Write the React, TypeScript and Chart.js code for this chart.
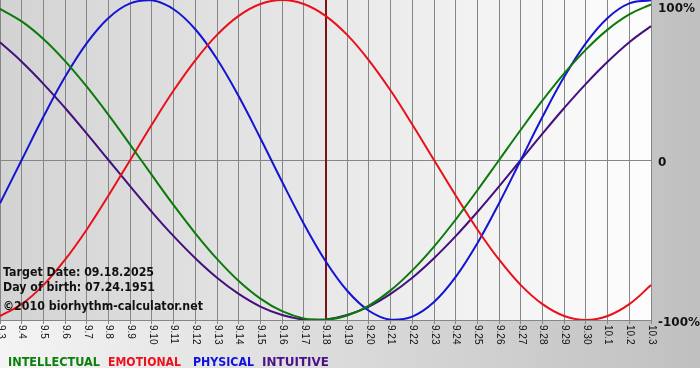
import React, { useEffect, useRef } from "react";
import { Chart, registerables } from "chart.js";

Chart.register(...registerables);

const dateLabels = [
  "9.3", "9.4", "9.5", "9.6", "9.7", "9.8", "9.9", "9.10", "9.11", "9.12",
  "9.13", "9.14", "9.15", "9.16", "9.17", "9.18", "9.19", "9.20", "9.21", "9.22",
  "9.23", "9.24", "9.25", "9.26", "9.27", "9.28", "9.29", "9.30", "10.1", "10.2", "10.3",
];

const intellectual = [
  0.945, 0.866, 0.756, 0.618, 0.458, 0.282, 0.095, -0.095, -0.282, -0.458,
  -0.618, -0.756, -0.866, -0.945, -0.99, -0.999, -0.972, -0.91, -0.815, -0.69,
  -0.541, -0.372, -0.189, 0, 0.189, 0.372, 0.541, 0.69, 0.815, 0.91, 0.972,
];

const emotional = [
  -0.975, -0.901, -0.782, -0.623, -0.434, -0.222, 0, 0.222, 0.434, 0.623,
  0.782, 0.901, 0.975, 1, 0.975, 0.901, 0.782, 0.623, 0.434, 0.222,
  0, -0.222, -0.434, -0.623, -0.782, -0.901, -0.975, -1, -0.975, -0.901, -0.782,
];

const physical = [
  -0.27, 0, 0.27, 0.52, 0.731, 0.888, 0.979, 0.998, 0.942, 0.817,
  0.631, 0.398, 0.136, -0.136, -0.398, -0.631, -0.817, -0.942, -0.998, -0.979,
  -0.888, -0.731, -0.52, -0.27, 0, 0.27, 0.52, 0.731, 0.888, 0.979, 0.998,
];

const intuitive = [
  0.736, 0.614, 0.476, 0.325, 0.165, 0, -0.165, -0.325, -0.476, -0.614,
  -0.736, -0.837, -0.916, -0.969, -0.997, -0.997, -0.969, -0.916, -0.837, -0.736,
  -0.614, -0.476, -0.325, -0.165, 0, 0.165, 0.325, 0.476, 0.614, 0.736, 0.837,
];

const targetDay = "9.18";
const yTickValues = [1, 0, -1];
const yTickTexts = ["100%", "0", "-100%"];
const infoLines = ["Target Date: 09.18.2025", "Day of birth: 07.24.1951", "\u00a92010 biorhythm-calculator.net"];
const legendNames = ["INTELLECTUAL", "EMOTIONAL", "PHYSICAL", "INTUITIVE"];

const lineColors = ["#0b7a0b", "#e8101a", "#1414d2", "#44107e"];
const legendColors = ["#0a7f0a", "#f0101c", "#1010e0", "#4a1288"];

function fitText(ctx: CanvasRenderingContext2D, text: string, x: number, y: number, w: number | null) {
  const m = ctx.measureText(text).width;
  ctx.save();
  ctx.translate(x, y);
  if (w) ctx.scale(w / m, 1);
  ctx.fillText(text, 0, 0);
  ctx.restore();
}

const decorPlugin = {
  id: "decor",
  beforeDraw(chart: any) {
    const { ctx, width, height, chartArea: a } = chart;
    ctx.save();
    ctx.fillStyle = "#ffffff";
    ctx.fillRect(0, 0, width, height);
    const g = ctx.createLinearGradient(0, 0, width, 0);
    g.addColorStop(0, "#f4f4f4");
    g.addColorStop(1, "#c0c0c0");
    ctx.fillStyle = g;
    ctx.fillRect(0, 0, width, 368);
    const g2 = ctx.createLinearGradient(a.left, 0, a.right, 0);
    g2.addColorStop(0, "#d3d3d3");
    g2.addColorStop(1, "#fdfdfd");
    ctx.fillStyle = g2;
    ctx.fillRect(a.left, a.top, a.right - a.left, a.bottom - a.top);
    ctx.restore();
  },
  beforeDatasetsDraw(chart: any) {
    const { ctx, chartArea: a } = chart;
    const xs = chart.scales.x;
    const x = Math.round(xs.getPixelForValue(dateLabels.indexOf(targetDay)));
    ctx.save();
    ctx.strokeStyle = "#7c1414";
    ctx.lineWidth = 2;
    ctx.beginPath();
    ctx.moveTo(x, a.top);
    ctx.lineTo(x, a.bottom);
    ctx.stroke();
    ctx.restore();
  },
  afterDraw(chart: any) {
    const { ctx, chartArea: a } = chart;
    const xs = chart.scales.x;
    const ys = chart.scales.y;
    ctx.save();
    ctx.fillStyle = "#111111";
    ctx.font = '10px "Liberation Sans"';
    ctx.textAlign = "left";
    ctx.textBaseline = "middle";
    dateLabels.forEach((lab, i) => {
      const x = xs.getPixelForValue(i);
      ctx.save();
      ctx.translate(x + 0.5, a.bottom + 5);
      ctx.rotate(Math.PI / 2);
      ctx.fillText(lab, 0, 0);
      ctx.restore();
    });
    ctx.textBaseline = "alphabetic";
    ctx.font = 'bold 12px "DejaVu Sans"';
    ctx.fillStyle = "#111111";
    const rw = [37, null, 42];
    yTickValues.forEach((v, i) => {
      const y = Math.max(12, ys.getPixelForValue(v) + 6);
      fitText(ctx, yTickTexts[i], a.right + 7, y, rw[i]);
    });
    ctx.font = 'bold 11.5px "DejaVu Sans"';
    const infoY = [276, 291, 310];
    const infoW = [151, 152, 200];
    infoLines.forEach((t, i) => fitText(ctx, t, 3, infoY[i], infoW[i]));
    ctx.font = 'bold 12px "DejaVu Sans"';
    const lx = [8, 108, 193, 262];
    const lw = [92, 73, 61, 67];
    legendNames.forEach((t, i) => {
      ctx.fillStyle = legendColors[i];
      fitText(ctx, t, lx[i], 366, lw[i]);
    });
    ctx.restore();
  },
};

export default function App() {
  const ref = useRef<HTMLCanvasElement | null>(null);
  useEffect(() => {
    document.body.style.margin = "0";
    const canvas = ref.current!;
    const series = [intellectual, emotional, physical, intuitive];
    const chart = new Chart(canvas, {
      type: "line",
      data: {
        labels: dateLabels,
        datasets: series.map((d, i) => ({
          label: legendNames[i],
          data: d,
          borderColor: lineColors[i],
          borderWidth: 2,
          pointRadius: 0,
          tension: 0.4,
          fill: false,
        })),
      },
      options: {
        responsive: false,
        animation: false,
        devicePixelRatio: 1,
        layout: { padding: { left: 0, top: 0, right: 49, bottom: 56 } },
        plugins: { legend: { display: false }, tooltip: { enabled: false } },
        scales: {
          x: {
            type: "category",
            offset: false,
            grid: { color: "#868686", lineWidth: 1, drawTicks: true, tickLength: 4, offset: false },
            border: { display: true, color: "#868686" },
            ticks: { display: false, autoSkip: false },
          },
          y: {
            min: -1,
            max: 1,
            grid: {
              drawTicks: false,
              color: (c: any) => (c.tick && c.tick.value === 1 ? "rgba(0,0,0,0)" : "#868686"),
            },
            border: { display: false },
            ticks: { display: false, stepSize: 1 },
          },
        },
      },
      plugins: [decorPlugin],
    });
    return () => chart.destroy();
  }, []);
  return <canvas ref={ref} width={700} height={380} style={{ display: "block" }} />;
}
